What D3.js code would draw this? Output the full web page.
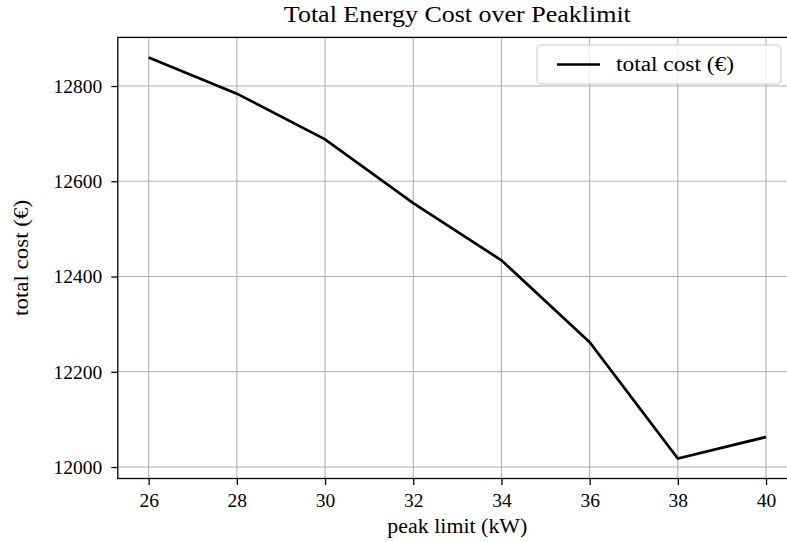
<!DOCTYPE html>
<html>
<head>
<meta charset="utf-8">
<script src="https://cdn.jsdelivr.net/npm/d3@7"></script>
<style>
  html, body { margin: 0; padding: 0; background: #ffffff; }
  svg { display: block; }
  text { font-family: "Liberation Serif", "DejaVu Serif", serif; fill: #000; }
</style>
</head>
<body>
<svg id="chart" width="787" height="542"></svg>
<script>
// Peak limit (kW) and total energy cost (€) at each limit
const peakLimits = [26, 28, 30, 32, 34, 36, 38, 40];
const totalCost = [12860, 12784, 12688, 12554, 12434, 12262, 12018, 12063];
const xTicks = [26, 28, 30, 32, 34, 36, 38, 40];
const yTicks = [12000, 12200, 12400, 12600, 12800];

const titleText = "Total Energy Cost over Peaklimit";
const xLabel = "peak limit (kW)";
const yLabel = "total cost (€)";
const seriesLabel = "total cost (€)";

const plot = { left: 117.8, top: 37.4, right: 796.9, bottom: 478.5 };

const svg = d3.select("#chart");

// 5% padding on each side of the data range
const xMin = d3.min(peakLimits), xMax = d3.max(peakLimits);
const yMin = d3.min(totalCost), yMax = d3.max(totalCost);
const xPad = (xMax - xMin) * 0.05, yPad = (yMax - yMin) * 0.05;

const x = d3.scaleLinear().domain([xMin - xPad, xMax + xPad]).range([plot.left, plot.right]);
const y = d3.scaleLinear().domain([yMin - yPad, yMax + yPad]).range([plot.bottom, plot.top]);

// grid
const grid = svg.append("g").attr("class", "grid");
grid.selectAll("line.vx").data(xTicks).join("line")
  .attr("x1", d => x(d)).attr("x2", d => x(d))
  .attr("y1", plot.top).attr("y2", plot.bottom)
  .attr("stroke", "#b0b0b0").attr("stroke-width", 1.1);
grid.selectAll("line.hy").data(yTicks).join("line")
  .attr("x1", plot.left).attr("x2", plot.right)
  .attr("y1", d => y(d)).attr("y2", d => y(d))
  .attr("stroke", "#b0b0b0").attr("stroke-width", 1.1);

// cost line
const line = d3.line().x((d, i) => x(peakLimits[i])).y(d => y(d));
svg.append("path")
  .datum(totalCost)
  .attr("d", line)
  .attr("fill", "none")
  .attr("stroke", "#000")
  .attr("stroke-width", 2.7)
  .attr("stroke-linejoin", "miter")
  .attr("stroke-linecap", "butt");

// frame
svg.append("rect")
  .attr("x", plot.left).attr("y", plot.top)
  .attr("width", plot.right - plot.left).attr("height", plot.bottom - plot.top)
  .attr("fill", "none").attr("stroke", "#000").attr("stroke-width", 1.3);

// axes
const fs = 19.5;
const xAxis = svg.append("g")
  .attr("transform", `translate(0,${plot.bottom})`)
  .call(d3.axisBottom(x).tickValues(xTicks).tickSize(6.5).tickPadding(8).tickFormat(d3.format("d")));
const yAxis = svg.append("g")
  .attr("transform", `translate(${plot.left},0)`)
  .call(d3.axisLeft(y).tickValues(yTicks).tickSize(6.5).tickPadding(9).tickFormat(d3.format("d")));
[xAxis, yAxis].forEach(g => {
  g.select(".domain").remove();
  g.selectAll(".tick line").attr("stroke", "#000").attr("stroke-width", 1.3);
  g.selectAll(".tick text").attr("font-size", fs)
    .attr("font-family", "Liberation Serif, DejaVu Serif, serif").attr("fill", "#000");
});

// title and axis labels (slightly widened to a book-face set width)
const cx = (plot.left + plot.right) / 2;
svg.append("text").attr("x", cx).attr("y", 21.5)
  .attr("text-anchor", "middle").attr("font-size", 23)
  .attr("textLength", 347).attr("lengthAdjust", "spacingAndGlyphs")
  .text(titleText);
svg.append("text").attr("x", cx).attr("y", 533)
  .attr("text-anchor", "middle").attr("font-size", 20)
  .attr("textLength", 140).attr("lengthAdjust", "spacingAndGlyphs")
  .text(xLabel);
svg.append("text")
  .attr("transform", `translate(28,${(plot.top + plot.bottom) / 2}) rotate(-90)`)
  .attr("text-anchor", "middle").attr("font-size", 20)
  .attr("textLength", 116).attr("lengthAdjust", "spacingAndGlyphs")
  .text(yLabel);

// legend
const lg = svg.append("g");
lg.append("rect")
  .attr("x", 537).attr("y", 45).attr("width", 244).attr("height", 39)
  .attr("rx", 4).attr("fill", "#fff").attr("fill-opacity", 0.8)
  .attr("stroke", "#cccccc").attr("stroke-width", 1.1);
lg.append("line")
  .attr("x1", 557).attr("x2", 600).attr("y1", 64.5).attr("y2", 64.5)
  .attr("stroke", "#000").attr("stroke-width", 2.7);
lg.append("text").attr("x", 616).attr("y", 71)
  .attr("font-size", 20)
  .attr("textLength", 118).attr("lengthAdjust", "spacingAndGlyphs")
  .text(seriesLabel);
</script>
</body>
</html>
